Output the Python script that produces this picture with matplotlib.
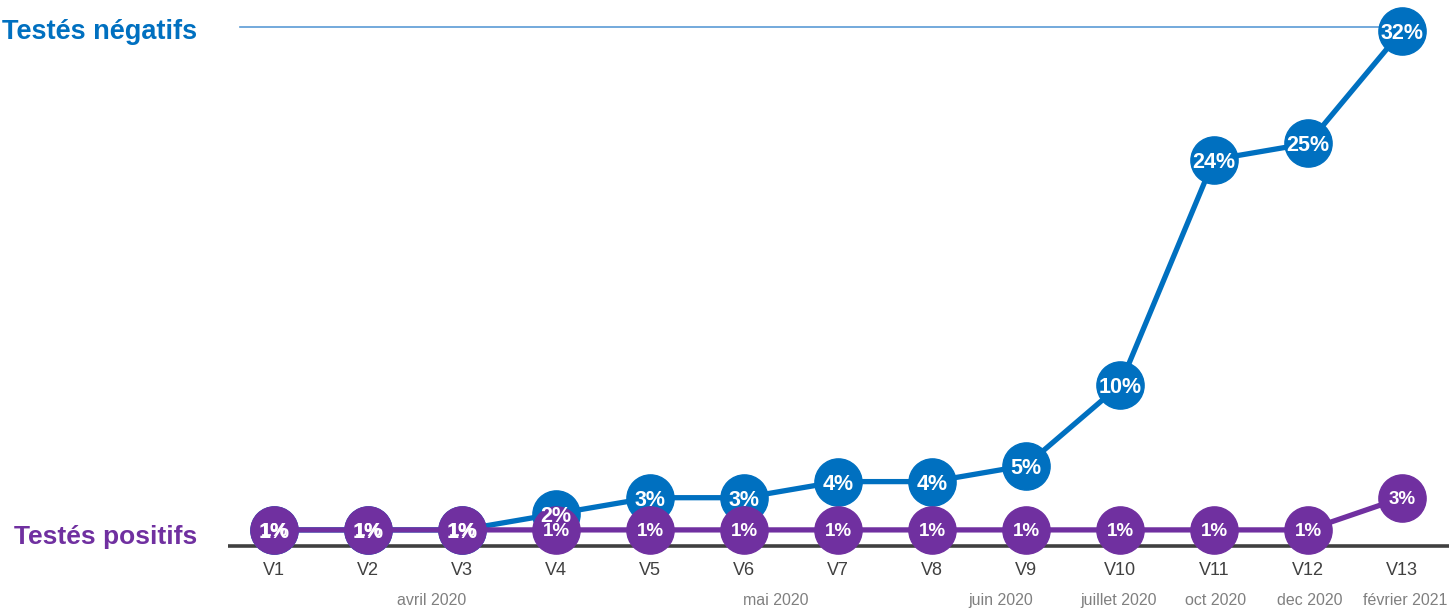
import matplotlib.pyplot as plt

plt.rcParams['font.family'] = ['Liberation Sans', 'DejaVu Sans']

vagues = ['V1', 'V2', 'V3', 'V4', 'V5', 'V6', 'V7', 'V8', 'V9', 'V10', 'V11', 'V12', 'V13']
negatifs = [1, 1, 1, 2, 3, 3, 4, 4, 5, 10, 24, 25, 32]
positifs = [1, 1, 1, 1, 1, 1, 1, 1, 1, 1, 1, 1, 3]
mois = ['avril 2020', 'mai 2020', 'juin 2020', 'juillet 2020', 'oct 2020', 'dec 2020', 'février 2021']
mois_pos = [1.68, 5.34, 7.73, 8.99, 10.02, 11.02, 12.03]

BLEU = '#0070C0'
VIOLET = '#7030A0'

fig = plt.figure(figsize=(14.49, 6.09), dpi=100)
ax = fig.add_axes([0, 0, 1, 1])
ax.set_xlim(-274 / 94, (1449 - 274) / 94)
ax.set_ylim(-(609 - 546) / 16.1, 546 / 16.1)
ax.axis('off')

x = list(range(len(vagues)))

# axe du bas + ligne du haut
ax.plot([-0.49, 12.6], [0, 0], color='#404040', lw=2.6, solid_capstyle='butt', zorder=1)
ax.plot([-0.36, 11.77], [32.24, 32.24], color='#5B9BD5', lw=1.2, zorder=1)

ax.plot(x, negatifs, color=BLEU, lw=3.8, marker='o', ms=34, mec=BLEU, zorder=2)
ax.plot(x, positifs, color=VIOLET, lw=3.8, marker='o', ms=34, mec=VIOLET, zorder=3)

for i, v in enumerate(negatifs):
    ax.text(i, v, f'{v}%', color='white', fontsize=15.5, fontweight='bold',
            ha='center', va='center_baseline', zorder=5)
for i, v in enumerate(positifs):
    ax.text(i, v, f'{v}%', color='white', fontsize=13.5, fontweight='bold',
            ha='center', va='center_baseline', zorder=6)

for i, lab in enumerate(vagues):
    ax.text(i, -1.5, lab, color='#404040', fontsize=13, ha='center', va='center')
for p, lab in zip(mois_pos, mois):
    ax.text(p, -3.4, lab, color='#808080', fontsize=11.5, ha='center', va='center')

ax.text(-0.82, 31.9, 'Testés négatifs', color=BLEU, fontsize=19.5, fontweight='bold',
        ha='right', va='center')
ax.text(-0.82, 0.56, 'Testés positifs', color=VIOLET, fontsize=19, fontweight='bold',
        ha='right', va='center')

fig.savefig('out.png', dpi=100)
